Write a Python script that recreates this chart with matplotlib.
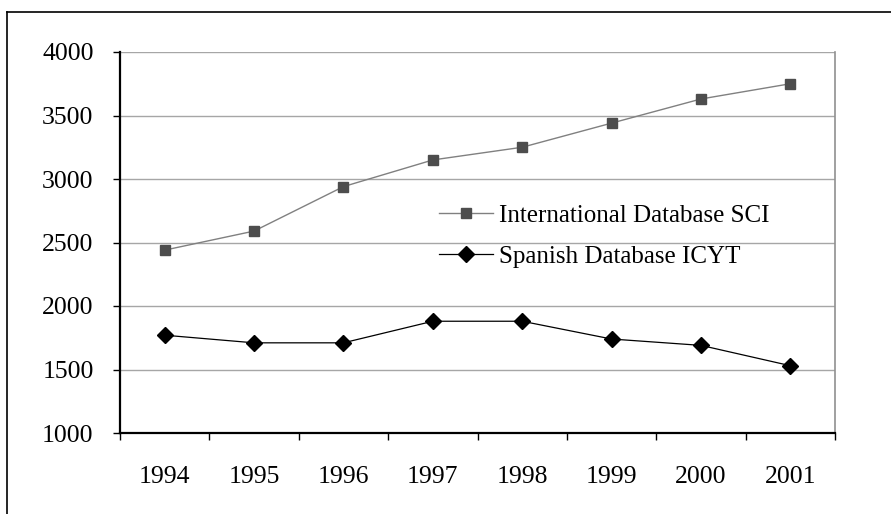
import matplotlib.pyplot as plt
import numpy as np
from matplotlib.lines import Line2D

years = ['1994', '1995', '1996', '1997', '1998', '1999', '2000', '2001']
sci = [2440, 2590, 2940, 3150, 3250, 3440, 3630, 3750]
icyt = [1770, 1710, 1710, 1880, 1880, 1740, 1690, 1530]
y_ticks = [1000, 1500, 2000, 2500, 3000, 3500, 4000]

plt.rcParams['font.family'] = ['Liberation Serif', 'DejaVu Serif']

W, H = 891, 514
fig = plt.figure(figsize=(W / 100, H / 100), dpi=100)
ax = fig.add_axes([120 / W, (H - 433) / H, 715 / W, 381 / H])

# outer chart border (top and left visible, rest runs off the image)
fig.add_artist(Line2D([7 / W, 1.01], [1 - 11.5 / H, 1 - 11.5 / H], color='black', lw=1.2,
                      transform=fig.transFigure))
fig.add_artist(Line2D([7 / W, 7 / W], [-0.01, 1 - 11.5 / H], color='black', lw=1.2,
                      transform=fig.transFigure))

x = np.arange(len(years))
ax.plot(x, sci, color='#808080', lw=1.0, marker='s', markersize=7.5,
        markerfacecolor='#4d4d4d', markeredgecolor='#4d4d4d',
        label='International Database SCI', zorder=3)
ax.plot(x, icyt, color='black', lw=0.9, marker='D', markersize=8,
        markerfacecolor='black', markeredgecolor='black',
        label='Spanish Database ICYT', zorder=3)

ax.set_xlim(-0.5, len(years) - 0.5)
ax.set_ylim(1000, 4000)
ax.set_yticks(y_ticks)
ax.yaxis.grid(True, color='#a6a6a6', lw=1.0)
ax.set_axisbelow(True)

ax.set_xticks(np.arange(len(years) + 1) - 0.5)
ax.set_xticklabels([])
ax.set_xticks(x, minor=True)
ax.set_xticklabels(years, minor=True)
ax.tick_params(axis='x', which='major', length=5, width=1, color='black', direction='out')
ax.tick_params(axis='x', which='minor', length=0, pad=24, labelsize=18.5)
ax.tick_params(axis='y', length=5, width=1, direction='out', pad=14, labelsize=18.5)

for s in ['left', 'bottom']:
    ax.spines[s].set_color('black')
    ax.spines[s].set_linewidth(1.6)
ax.spines['right'].set_color('#909090')
ax.spines['right'].set_linewidth(1.2)
ax.spines['top'].set_visible(False)

ax.legend(loc='upper left', bbox_to_anchor=((439 - 120) / 715, (433 - 204) / 381),
          frameon=False, fontsize=18, handlelength=2.15, handletextpad=0.25,
          labelspacing=0.75, borderpad=0, borderaxespad=0)

fig.savefig('out.png', dpi=100)
